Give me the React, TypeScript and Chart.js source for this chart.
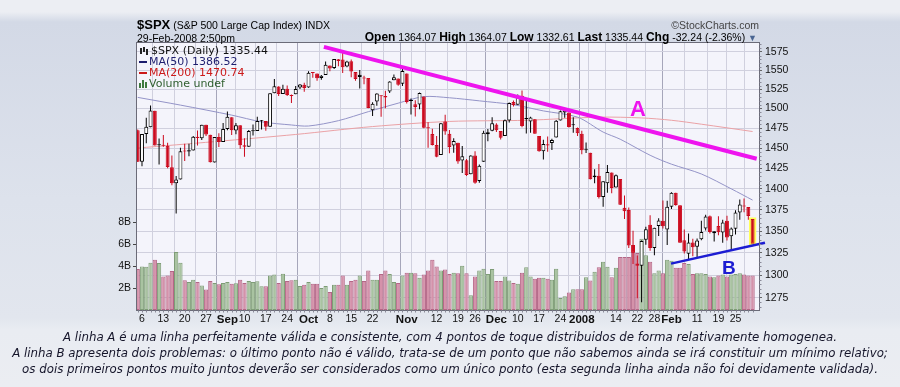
import React, { useEffect, useRef } from "react";
import { Chart, registerables } from "chart.js";
Chart.register(...registerables);

// ---------- DATA (S&P 500 daily, 3-Aug-2007 .. 29-Feb-2008) ----------
const prevClose0 = 1472.2;
const opens = [
  1472.2, 1433.0, 1467.6, 1476.2, 1497.2, 1453.4, 1453.4, 1452.9, 1426.2, 1406.6,
  1411.3, 1445.9, 1445.6, 1447.0, 1464.1, 1462.3, 1479.4, 1466.7, 1432.0, 1463.7,
  1457.6, 1473.9, 1488.8, 1472.0, 1478.6, 1453.5, 1451.7, 1471.1, 1471.5, 1483.9,
  1484.2, 1476.6, 1519.8, 1528.7, 1518.8, 1525.8, 1516.3, 1518.6, 1527.3, 1531.2,
  1527.3, 1546.9, 1545.8, 1539.9, 1543.8, 1556.5, 1553.2, 1565.0, 1564.7, 1555.4,
  1562.3, 1547.8, 1544.4, 1539.3, 1540.0, 1497.8, 1509.3, 1516.6, 1516.2, 1522.2,
  1536.9, 1539.4, 1532.2, 1545.8, 1511.1, 1505.6, 1505.3, 1515.5, 1475.3, 1467.6,
  1453.7, 1441.4, 1483.4, 1468.0, 1453.1, 1456.7, 1434.5, 1434.7, 1417.6, 1440.7,
  1409.6, 1433.0, 1467.4, 1471.8, 1479.6, 1471.3, 1465.2, 1484.6, 1508.6, 1505.1,
  1516.7, 1487.6, 1483.3, 1486.2, 1465.1, 1445.9, 1454.7, 1456.4, 1463.2, 1484.6,
  1495.1, 1495.1, 1479.8, 1475.3, 1468.0, 1447.6, 1444.0, 1414.1, 1415.7, 1390.3,
  1406.8, 1419.9, 1401.6, 1411.9, 1377.4, 1374.8, 1333.9, 1312.9, 1310.4, 1340.1,
  1357.3, 1330.7, 1355.9, 1362.2, 1352.0, 1378.6, 1395.4, 1380.3, 1339.5, 1324.0,
  1336.9, 1331.9, 1340.6, 1353.1, 1367.3, 1347.5, 1355.9, 1348.4, 1362.2, 1344.2,
  1352.8, 1371.8, 1379.0, 1378.2, 1364.07,
];
const highs = [
  1473.2, 1467.7, 1488.3, 1503.9, 1497.2, 1462.0, 1466.3, 1456.7, 1440.8, 1415.5,
  1450.3, 1455.4, 1455.3, 1464.9, 1472.1, 1479.4, 1479.4, 1466.7, 1463.8, 1468.4,
  1481.5, 1496.4, 1488.8, 1481.5, 1478.6, 1462.3, 1472.5, 1479.5, 1489.6, 1485.4,
  1484.2, 1519.9, 1538.7, 1529.1, 1530.9, 1530.2, 1518.3, 1529.4, 1532.0, 1533.7,
  1549.0, 1548.0, 1545.8, 1544.0, 1561.9, 1556.5, 1565.3, 1565.4, 1576.1, 1563.0,
  1564.7, 1547.8, 1550.7, 1542.8, 1540.0, 1508.1, 1520.0, 1517.2, 1523.2, 1535.5,
  1544.7, 1539.4, 1552.8, 1545.8, 1513.2, 1510.8, 1520.8, 1515.5, 1482.5, 1474.1,
  1464.9, 1481.4, 1492.1, 1472.7, 1462.2, 1456.7, 1452.6, 1436.4, 1440.9, 1446.1,
  1429.5, 1471.6, 1473.8, 1488.9, 1481.2, 1471.3, 1486.1, 1508.0, 1510.6, 1518.3,
  1523.6, 1512.0, 1489.4, 1486.7, 1465.1, 1460.2, 1464.4, 1461.5, 1485.4, 1497.6,
  1499.0, 1495.1, 1488.8, 1475.8, 1471.8, 1456.8, 1444.0, 1423.9, 1430.3, 1409.2,
  1429.1, 1419.9, 1417.3, 1411.9, 1392.0, 1377.7, 1350.3, 1322.1, 1339.1, 1355.2,
  1368.6, 1354.0, 1364.9, 1385.9, 1385.6, 1396.0, 1395.4, 1380.3, 1352.0, 1347.3,
  1341.2, 1341.4, 1362.1, 1369.2, 1368.2, 1350.0, 1367.3, 1363.2, 1367.9, 1354.3,
  1374.4, 1387.3, 1388.3, 1378.2, 1364.07,
];
const lows = [
  1432.8, 1427.4, 1455.8, 1476.2, 1453.1, 1429.7, 1451.5, 1425.1, 1404.4, 1370.6,
  1411.3, 1434.0, 1439.8, 1447.0, 1453.0, 1460.0, 1465.0, 1432.0, 1432.0, 1451.3,
  1457.6, 1472.2, 1466.3, 1467.4, 1449.1, 1439.3, 1451.7, 1465.8, 1471.5, 1473.2,
  1471.8, 1476.6, 1519.8, 1516.4, 1518.8, 1516.2, 1507.1, 1518.6, 1525.4, 1521.9,
  1527.2, 1540.4, 1536.3, 1537.6, 1543.8, 1549.0, 1551.8, 1555.5, 1546.7, 1554.1,
  1540.8, 1536.3, 1526.0, 1531.8, 1500.3, 1490.4, 1503.6, 1489.6, 1500.5, 1520.2,
  1536.9, 1529.6, 1529.4, 1506.7, 1492.5, 1489.9, 1499.1, 1475.0, 1450.3, 1453.0,
  1438.5, 1441.4, 1466.5, 1443.5, 1444.0, 1430.4, 1419.3, 1415.6, 1417.6, 1406.1,
  1407.4, 1433.0, 1458.4, 1470.9, 1470.1, 1460.7, 1465.2, 1482.2, 1502.7, 1505.0,
  1476.0, 1468.2, 1469.2, 1467.8, 1445.4, 1435.7, 1445.3, 1447.5, 1463.2, 1484.6,
  1488.1, 1475.9, 1469.2, 1465.1, 1442.1, 1443.7, 1411.2, 1406.6, 1388.3, 1378.7,
  1395.3, 1394.8, 1401.6, 1380.6, 1364.3, 1330.7, 1312.5, 1274.3, 1270.0, 1334.3,
  1327.5, 1322.3, 1344.4, 1353.0, 1334.1, 1375.9, 1379.7, 1336.6, 1324.3, 1316.8,
  1321.1, 1320.3, 1339.4, 1350.8, 1347.3, 1338.1, 1345.1, 1336.6, 1339.1, 1327.0,
  1346.1, 1363.3, 1372.0, 1363.3, 1332.61,
];
const closes = [
  1433.1, 1467.7, 1476.7, 1497.5, 1453.1, 1453.6, 1452.9, 1426.5, 1406.7, 1411.3,
  1445.9, 1445.6, 1447.1, 1464.1, 1462.5, 1479.4, 1466.8, 1432.4, 1463.8, 1457.6,
  1474.0, 1489.4, 1472.3, 1478.6, 1453.6, 1451.7, 1471.5, 1471.6, 1484.0, 1484.3,
  1476.7, 1519.8, 1529.0, 1518.8, 1525.8, 1517.7, 1517.2, 1525.4, 1531.4, 1526.8,
  1547.0, 1546.6, 1539.6, 1542.8, 1557.6, 1552.6, 1565.2, 1562.5, 1554.4, 1561.8,
  1548.7, 1538.5, 1541.2, 1540.1, 1500.6, 1506.3, 1519.6, 1515.9, 1514.4, 1535.3,
  1541.0, 1531.0, 1549.4, 1508.4, 1509.7, 1502.2, 1520.3, 1475.6, 1474.8, 1453.7,
  1439.2, 1481.1, 1470.6, 1451.2, 1458.7, 1433.3, 1439.7, 1416.8, 1440.7, 1407.2,
  1428.2, 1469.0, 1469.7, 1481.1, 1472.4, 1462.8, 1485.0, 1507.3, 1504.7, 1516.0,
  1477.7, 1486.6, 1488.4, 1468.0, 1445.9, 1455.0, 1453.0, 1460.1, 1484.5, 1496.5,
  1497.7, 1476.3, 1478.5, 1468.4, 1447.2, 1447.2, 1411.6, 1416.2, 1390.2, 1409.1,
  1420.3, 1401.0, 1416.3, 1381.0, 1373.2, 1333.3, 1325.2, 1310.5, 1338.6, 1352.1,
  1330.6, 1354.0, 1362.3, 1355.8, 1378.6, 1395.4, 1380.8, 1336.6, 1326.5, 1336.9,
  1331.3, 1339.1, 1348.9, 1367.2, 1348.9, 1350.0, 1348.8, 1360.0, 1342.5, 1353.1,
  1371.8, 1381.3, 1380.0, 1367.7, 1335.44,
];
// volume in billions of shares
const volumes = [
  3.74, 3.98, 3.96, 4.32, 4.59, 4.29, 3.07, 3.16, 3.56, 5.3,
  4.32, 2.71, 2.56, 2.77, 2.56, 2.25, 1.88, 2.65, 2.47, 2.35,
  2.47, 2.56, 2.4, 2.45, 2.77, 2.47, 2.65, 2.56, 2.62, 2.16,
  2.16, 3.16, 3.25, 2.47, 3.31, 2.65, 2.71, 2.77, 2.2, 2.3,
  2.56, 2.4, 2.4, 2.0, 2.2, 1.65, 2.3, 2.3, 3.16, 2.3,
  2.65, 2.77, 3.16, 2.65, 3.62, 2.77, 2.77, 3.3, 3.6, 3.3,
  2.56, 2.47, 3.16, 3.4, 3.4, 3.35, 2.95, 3.25, 3.6, 4.6,
  3.98, 3.6, 3.7, 3.3, 3.4, 3.35, 4.05, 3.35, 1.35, 3.07,
  3.6, 3.77, 3.3, 3.75, 2.65, 2.65, 3.07, 2.7, 2.47, 2.4,
  3.4, 3.9, 3.07, 2.86, 2.95, 2.95, 2.86, 2.77, 3.77, 1.1,
  1.26, 1.6, 1.9, 1.9, 1.9, 3.0, 2.7, 3.5, 3.9, 4.4,
  3.95, 3.0, 3.86, 4.84, 4.84, 4.84, 5.3, 5.2, 6.5, 5.0,
  4.4, 3.35, 3.6, 3.35, 4.6, 4.5, 3.86, 3.86, 4.3, 4.2,
  3.3, 3.35, 3.35, 3.3, 3.07, 3.0, 3.16, 3.25, 3.07, 3.25,
  3.3, 3.35, 3.25, 3.16, 3.16,
];
// moving averages (bar index -> value)
const ma50Idx = [0, 10, 22, 29, 36, 40, 47, 54, 61, 67, 73, 80, 88, 95, 103, 109, 113, 120, 125, 132, 139, 144];
const ma50Vals = [1514.5, 1504.5, 1491.6, 1483, 1479, 1477.7, 1484.5, 1496, 1507, 1515.5, 1514, 1510, 1505, 1497, 1489, 1470, 1461, 1441, 1430, 1418, 1400, 1386.5];
const ma200Idx = [0, 18, 37, 55, 73, 91, 108, 118, 125, 132, 144];
const ma200Vals = [1450, 1458, 1467, 1477, 1483.5, 1485, 1489, 1488, 1485, 1480, 1470.7];
// trend lines
const lineAIdx = [43.6, 144.96];
const lineAVals = [1581.8, 1436.7];
const lineBIdx = [124.9, 146.9];
const lineBVals = [1312.8, 1336.6];
// axes
const tickIdx = [1, 6, 11, 16, 21, 25, 30, 35, 40, 45, 50, 55, 60, 63, 65, 70, 75, 79, 84, 89, 94, 99, 103, 104, 107, 112, 117, 121, 125, 131, 136, 140];
const tickLabels = ["6", "13", "20", "27", "Sep", "10", "17", "24", "Oct", "8", "15", "22", "", "Nov", "", "12", "19", "26", "Dec", "10", "17", "24", "", "2008", "", "14", "22", "28", "Feb", "11", "19", "25"];
const monthIdx = [21, 40, 63, 84, 104, 125];
const priceTicks = [1275, 1300, 1325, 1350, 1375, 1400, 1425, 1450, 1475, 1500, 1525, 1550, 1575];
const volTicks = [2, 4, 6, 8];

const SANS = "'Liberation Sans', Arial, Helvetica, sans-serif";
const VERD = "'DejaVu Sans', Verdana, sans-serif";

export default function App() {
  const canvasRef = useRef<HTMLCanvasElement | null>(null);

  useEffect(() => {
    const cv = canvasRef.current;
    if (!cv) return;
    Chart.defaults.font.family = SANS;
    const n = closes.length;
    const ids = closes.map((_, i) => i);
    const isUp = closes.map((c, i) => c >= (i === 0 ? prevClose0 : closes[i - 1]));
    const col = isUp.map((u) => (u ? "#000000" : "#cc0a1e"));
    const bodyFill = closes.map((c, i) => (c > opens[i] ? "#ffffff" : col[i]));
    const volFill = isUp.map((u) => (u ? "#a9c3a1" : "#d492aa"));
    const volLine = isUp.map((u) => (u ? "#7e9c76" : "#b46686"));
    const last = n - 1;
    const labelMap: Record<number, string> = {};
    tickIdx.forEach((v, i) => (labelMap[v] = tickLabels[i]));

    const framePlugin = {
      id: "frame",
      beforeDraw(chart: any) {
        const { ctx, chartArea: a } = chart;
        ctx.save();
        ctx.fillStyle = "#f4f4fb";
        ctx.fillRect(a.left, a.top, a.right - a.left, a.bottom - a.top);
        ctx.restore();
      },
      afterDraw(chart: any) {
        const { ctx, chartArea: a, scales } = chart;
        ctx.save();
        ctx.strokeStyle = "#6b6b78";
        ctx.lineWidth = 1;
        ctx.strokeRect(a.left - 0.5, a.top - 0.5, a.right - a.left + 1, a.bottom - a.top + 1);
        ctx.strokeStyle = "#8a8a98";
        ctx.beginPath();
        for (let i = 0; i < n; i++) {
          const x = Math.round(scales.x.getPixelForValue(i)) + 0.5;
          ctx.moveTo(x, a.bottom + 0.5);
          ctx.lineTo(x, a.bottom + 2.5);
        }
        for (let p = 1265; p <= 1585; p += 5) {
          if (p % 25 === 0) continue;
          const y = Math.round(scales.y.getPixelForValue(p)) + 0.5;
          ctx.moveTo(a.right + 0.5, y);
          ctx.lineTo(a.right + 2.5, y);
        }
        ctx.stroke();
        ctx.restore();
      },
    };

    const chart = new Chart(cv, {
      type: "bar",
      data: {
        datasets: [
          {
            type: "bar",
            yAxisID: "yv",
            data: ids.map((i) => ({ x: i, y: volumes[i] })),
            backgroundColor: volFill,
            borderColor: volLine,
            borderWidth: 1,
            borderSkipped: false,
            barPercentage: 1,
            categoryPercentage: 1,
            grouped: false,
            inflateAmount: 0,
            order: 10,
          } as any,
          {
            type: "line",
            yAxisID: "y",
            data: ma200Idx.map((x, i) => ({ x, y: ma200Vals[i] })),
            borderColor: "#eba2a6",
            borderWidth: 1,
            pointRadius: 0,
            tension: 0.3,
            order: 9,
          } as any,
          {
            type: "line",
            yAxisID: "y",
            data: ma50Idx.map((x, i) => ({ x, y: ma50Vals[i] })),
            borderColor: "#9494c8",
            borderWidth: 1,
            pointRadius: 0,
            tension: 0.3,
            order: 8,
          } as any,
          {
            type: "bar",
            yAxisID: "y",
            data: ids.map((i) => ({ x: i, y: [lows[i], highs[i]] })),
            backgroundColor: col,
            borderWidth: 0,
            barThickness: 1,
            grouped: false,
            inflateAmount: 0,
            order: 6,
          } as any,
          {
            type: "bar",
            yAxisID: "y",
            data: [{ x: last, y: [opens[last], closes[last]] }],
            backgroundColor: "#ffff5a",
            borderWidth: 0,
            barThickness: 4,
            inflateAmount: 1.6,
            grouped: false,
            order: 5,
          } as any,
          {
            type: "bar",
            yAxisID: "y",
            data: ids.map((i) => ({ x: i, y: [opens[i], closes[i]] })),
            backgroundColor: bodyFill,
            borderColor: col,
            borderWidth: 1,
            borderSkipped: false,
            barPercentage: 0.92,
            categoryPercentage: 1,
            minBarLength: 1,
            grouped: false,
            inflateAmount: 0,
            order: 4,
          } as any,
          {
            type: "line",
            yAxisID: "y",
            data: lineAIdx.map((x, i) => ({ x, y: lineAVals[i] })),
            borderColor: "#ee14ee",
            borderWidth: 4,
            pointRadius: 0,
            order: 1,
          } as any,
          {
            type: "line",
            yAxisID: "y",
            data: lineBIdx.map((x, i) => ({ x, y: lineBVals[i] })),
            borderColor: "#1c1cd2",
            borderWidth: 2.5,
            pointRadius: 0,
            clip: false,
            order: 1,
          } as any,
        ],
      },
      options: {
        responsive: false,
        animation: false,
        devicePixelRatio: 1,
        events: [],
        layout: { padding: { top: 43, bottom: 61, left: 0, right: 0 } },
        plugins: { legend: { display: false }, tooltip: { enabled: false } },
        scales: {
          x: {
            type: "linear",
            min: -0.17,
            max: 145.5,
            offset: false,
            afterBuildTicks: (s: any) => {
              s.ticks = tickIdx.map((v) => ({ value: v }));
            },
            afterFit: (s: any) => {
              s.height = 16;
            },
            ticks: {
              autoSkip: false,
              maxRotation: 0,
              padding: 3,
              color: "#111",
              font: (ctx: any) =>
                monthIdx.includes(ctx.tick?.value)
                  ? { size: 11.5, weight: "bold", family: SANS }
                  : { size: 10.5, weight: "normal", family: SANS },
              callback: (v: any) => labelMap[v] ?? "",
            },
            grid: {
              color: (ctx: any) => (monthIdx.includes(ctx.tick?.value) ? "#a6a6ba" : "#d0d0de"),
              drawTicks: false,
              lineWidth: 1,
            },
            border: { display: false },
          },
          y: {
            type: "logarithmic",
            position: "right",
            min: 1261.5,
            max: 1587,
            afterBuildTicks: (s: any) => {
              s.ticks = priceTicks.map((v) => ({ value: v }));
            },
            afterFit: (s: any) => {
              s.width = 141;
            },
            ticks: {
              autoSkip: false,
              padding: 3,
              color: "#111",
              font: { size: 10.5, family: SANS },
              callback: (v: any) => String(v),
            },
            grid: { color: "#d0d0de", tickLength: 3, tickColor: "#666" },
            border: { display: false },
          },
          yv: {
            type: "linear",
            position: "left",
            min: 0,
            max: 24.4,
            afterBuildTicks: (s: any) => {
              s.ticks = volTicks.map((v) => ({ value: v }));
            },
            afterFit: (s: any) => {
              s.width = 137;
            },
            ticks: {
              padding: 2,
              color: "#111",
              font: { size: 10.5, family: SANS },
              callback: (v: any) => v + "B",
            },
            grid: { drawOnChartArea: false, tickLength: 4, tickColor: "#444" },
            border: { display: false },
          },
        },
      } as any,
      plugins: [framePlugin],
    });
    return () => chart.destroy();
  }, []);

  const abs = (o: React.CSSProperties): React.CSSProperties => ({ position: "absolute", whiteSpace: "nowrap", ...o });

  return (
    <div
      style={{
        position: "fixed",
        left: 0,
        top: 0,
        width: 900,
        height: 387,
        overflow: "hidden",
        fontFamily: SANS,
        background: "linear-gradient(180deg, #eceef3 0px, #eceef3 12px, #d3d9e6 22px, #dde2ec 200px, #e2e6ee 318px, #e9ecf2 330px, #ebedf2 387px)",
      }}
    >
      <canvas ref={canvasRef} width={900} height={387} style={{ position: "absolute", left: 0, top: 0, width: 900, height: 387 }} />

      {/* header */}
      <div style={abs({ left: 137, top: 16, lineHeight: "15px", color: "#000" })}>
        <span style={{ fontWeight: "bold", fontSize: 13 }}>$SPX</span>
        <span style={{ fontSize: 10.5 }}> (S&amp;P 500 Large Cap Index) INDX</span>
      </div>
      <div style={abs({ right: 141, top: 19, lineHeight: "12px", fontSize: 10.5, color: "#444" })}>©StockCharts.com</div>
      <div style={abs({ left: 137, top: 32, lineHeight: "12px", fontSize: 10.5, color: "#000" })}>29-Feb-2008 2:50pm</div>
      <div style={abs({ right: 143, top: 31, lineHeight: "13px", fontSize: 10.5, color: "#000" })}>
        <b style={{ fontSize: 12 }}>Open</b> 1364.07 <b style={{ fontSize: 12 }}>High</b> 1364.07{" "}
        <b style={{ fontSize: 12 }}>Low</b> 1332.61 <b style={{ fontSize: 12 }}>Last</b> 1335.44{" "}
        <b style={{ fontSize: 12 }}>Chg</b> -32.24 (-2.36%) <span style={{ color: "#4a6592", fontSize: 9 }}>▼</span>
      </div>

      {/* legend */}
      <div style={abs({ left: 139, top: 45, fontFamily: VERD, fontSize: 11, lineHeight: "11px" })}>
        <div style={{ display: "flex", alignItems: "center", height: 11, color: "#111" }}>
          <span style={{ display: "inline-block", width: 10, height: 8, position: "relative", marginRight: 2 }}>
            <span style={{ position: "absolute", left: 1, top: 1, width: 2, height: 6, background: "#222" }} />
            <span style={{ position: "absolute", left: 4, top: 0, width: 2, height: 5, background: "#222" }} />
            <span style={{ position: "absolute", left: 7, top: 2, width: 2, height: 6, background: "#222" }} />
          </span>
          $SPX (Daily) 1335.44
        </div>
        <div style={{ display: "flex", alignItems: "center", height: 11, color: "#1e1e6e" }}>
          <span style={{ display: "inline-block", width: 8, height: 2, background: "#1e1e6e", marginRight: 2 }} />
          MA(50) 1386.52
        </div>
        <div style={{ display: "flex", alignItems: "center", height: 11, color: "#cc1a1a" }}>
          <span style={{ display: "inline-block", width: 8, height: 2, background: "#cc1a1a", marginRight: 2 }} />
          MA(200) 1470.74
        </div>
        <div style={{ display: "flex", alignItems: "center", height: 11, color: "#2f5f2f" }}>
          <span style={{ display: "inline-block", width: 9, height: 8, position: "relative", marginRight: 1 }}>
            <span style={{ position: "absolute", left: 0, bottom: 0, width: 2, height: 5, background: "#3f7a3f" }} />
            <span style={{ position: "absolute", left: 3, bottom: 0, width: 2, height: 8, background: "#3f7a3f" }} />
            <span style={{ position: "absolute", left: 6, bottom: 0, width: 2, height: 6, background: "#3f7a3f" }} />
          </span>
          Volume undef
        </div>
      </div>

      {/* trend line labels */}
      <div style={abs({ left: 630, top: 98, fontSize: 22, lineHeight: "22px", fontWeight: "bold", color: "#ee14ee" })}>A</div>
      <div style={abs({ left: 722, top: 258, fontSize: 19, lineHeight: "20px", fontWeight: "bold", color: "#1c1cd2" })}>B</div>

      {/* caption */}
      <div
        style={abs({
          left: 0,
          top: 329,
          width: 900,
          textAlign: "center",
          fontFamily: VERD,
          fontStyle: "italic",
          fontSize: 11.8,
          lineHeight: "16px",
          color: "#15152a",
        })}
      >
        <div>A linha A é uma linha perfeitamente válida e consistente, com 4 pontos de toque distribuidos de forma relativamente homogenea.</div>
        <div>A linha B apresenta dois problemas: o último ponto não é válido, trata-se de um ponto que não sabemos ainda se irá constituir um mínimo relativo;</div>
        <div>os dois primeiros pontos muito juntos deverão ser considerados como um único ponto (esta segunda linha ainda não foi devidamente validada).</div>
      </div>
    </div>
  );
}
